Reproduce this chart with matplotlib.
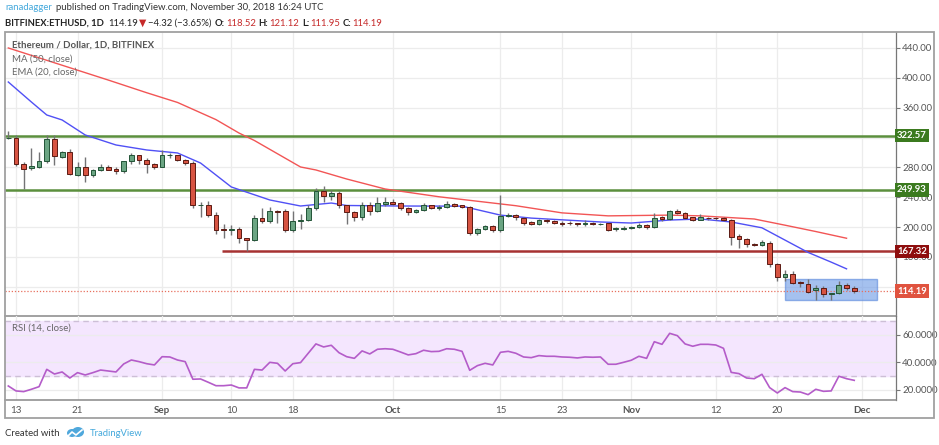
import matplotlib
matplotlib.use("Agg")
import matplotlib.pyplot as plt
import matplotlib.dates as mdates
import matplotlib.transforms as mtransforms
from matplotlib.patches import Rectangle, Ellipse
import pandas as pd

plt.rcParams['font.family'] = ['Lato', 'DejaVu Sans']

W, H = 939, 445

# ---------------- data ----------------
start_date = "2018-08-12"
opens = [319, 319, 285, 279, 280, 288, 318, 294, 300, 270, 281, 270, 277, 281, 278, 275, 289, 296, 290, 285,
         281, 296, 296, 290, 286, 229, 229.5, 216, 198, 196, 197, 185, 183, 212, 208, 222, 221, 196.5, 208.5, 209.5,
         225, 248, 241, 245, 229, 220, 214, 230, 222, 231.5, 233.5, 232, 225, 220, 222.5, 229, 225.5, 226.5, 231, 229,
         227, 191.5, 197.5, 201, 196, 215, 216, 212.5, 207, 204.5, 209.5, 207.5, 206, 205.5, 205, 203.5, 205.5, 204, 205, 197,
         197.5, 198.5, 200, 203, 200, 213.5, 211, 221, 218.5, 213, 210, 212.5, 212, 211.5, 209.5, 187.5, 184.5, 177.5, 176, 179,
         150.5, 133.5, 137.5, 127, 124, 115, 118, 110, 111, 122.5, 118.52]
highs = [329, 323, 287, 306, 300, 323, 323, 302, 305, 287, 294, 278, 285, 283, 280, 289, 299, 297, 293, 286,
         303, 299, 297, 291, 289, 233, 235, 220, 204, 203, 200, 186, 216, 225, 227, 223, 224, 221, 217, 229,
         252, 255, 250, 248, 230, 222, 234, 234, 240, 240, 237, 233.6, 226.5, 224, 232, 230, 229, 235, 232.8, 230,
         228, 199, 203, 203, 243, 219, 217, 214, 208, 211, 211, 209, 208, 208, 206, 209.5, 207, 206, 206, 200,
         201, 202, 205, 204, 219, 215, 223, 224, 220, 214, 217, 214, 213.5, 213, 211, 191, 185, 178.5, 183, 181,
         152, 142, 141, 128, 130, 122, 121, 112, 128, 124.5, 121.12]
lows = [318, 282, 251, 277, 279, 286, 283, 292, 270, 269, 260, 267, 275, 276, 271, 273, 284, 285, 273, 278,
        280, 292, 289, 283, 226, 213, 213, 191, 186, 189, 179, 168, 181, 205, 206, 205, 194, 194, 197, 208,
        223, 234, 236, 226, 204, 208, 210, 216, 220, 228, 229, 223, 216, 219, 221, 224, 222.8, 226, 227, 225,
        189, 190, 196, 194, 194, 213, 210, 203, 203, 203, 206, 204, 202, 203, 202, 202, 203, 203, 195, 195,
        196, 197, 199, 198, 199, 208, 210, 217, 211, 208, 209, 209, 210, 208, 176, 172, 173, 175, 175, 147,
        128, 128, 124, 120, 111, 102, 106, 102, 110, 115, 111.95]
closes = [320, 284, 278, 282, 288, 318, 295, 300, 271, 281, 270, 277, 281, 277, 275, 288, 296, 290, 284, 281,
          296, 296.5, 290, 285.5, 229, 229.5, 216, 196.5, 196.5, 197.5, 185, 183, 212, 208, 221.5, 220, 196.5, 208.5, 210, 225,
          248.7, 241, 245, 229, 220, 214, 230, 222, 232, 233.5, 231.5, 226, 220, 222.8, 229.5, 225.5, 226.7, 230.5, 228.5, 226.5,
          191.5, 198, 201.5, 196, 215, 216.5, 213, 206, 204.5, 209.5, 208, 206, 204.5, 204.8, 203.5, 205.5, 204, 204.5, 196.5, 198.5,
          199, 200.5, 203, 200, 212.5, 210.5, 221.5, 219, 212.5, 210, 213, 212, 211.8, 209.5, 187, 184.5, 177.5, 176, 179.5, 150.5,
          133.5, 137.5, 125.5, 124.5, 113.5, 118, 110, 111, 123, 118.5, 114.19]
rsi_values = [22.9, 19.3, 18.8, 20.5, 22.4, 35, 31.6, 33.1, 28.7, 32.6, 30.9, 32.6, 34.5, 33.8, 33.1, 38.9, 41.8, 40.6, 39.1, 38.2,
              44.2, 44, 41.8, 40.6, 27.8, 28, 25.6, 23.1, 23.1, 23.6, 21.5, 21.5, 35, 34.5, 40.1, 39.4, 33.8, 39.1, 39.9, 46.7,
              53.5, 51.3, 52.5, 47.1, 44.2, 43, 48.4, 46.2, 49.6, 50, 49.6, 47.6, 45.5, 46.4, 48.9, 47.9, 48.1, 50, 49.6, 48.1,
              34.3, 37.7, 39.4, 38.2, 47.4, 48.1, 46.7, 44, 43.5, 45, 44.5, 44.5, 44, 43.8, 43.3, 44, 43.8, 44, 38.7, 38.7,
              40.1, 41.6, 44.5, 43, 55.1, 53.2, 61.2, 59.5, 53.5, 51.8, 53.2, 53.2, 52.7, 50.3, 32.8, 31.9, 28.7, 28.2, 31.4, 21.7,
              17.8, 21.7, 18.8, 18.5, 16.6, 20.5, 19, 19.3, 30, 28.2, 27]

ma50_dates = ["2018-08-12", "2018-08-25", "2018-08-30", "2018-09-03", "2018-09-08", "2018-09-11", "2018-09-13",
              "2018-09-19", "2018-09-21", "2018-09-25", "2018-09-30", "2018-10-07", "2018-10-17", "2018-10-23",
              "2018-10-29", "2018-11-06", "2018-11-10", "2018-11-17", "2018-11-21", "2018-11-25", "2018-11-29"]
ma50_vals = [440, 397, 380, 367, 344, 326, 316, 280.5, 276.5, 264.4, 251, 240.6, 228.6, 219,
             215, 216, 215, 210.8, 202.5, 194, 185]
ema20_dates = ["2018-08-12", "2018-08-15", "2018-08-17", "2018-08-19", "2018-08-22", "2018-08-26", "2018-08-30",
               "2018-09-03", "2018-09-06", "2018-09-10", "2018-09-15", "2018-09-19", "2018-09-23", "2018-09-25",
               "2018-10-02", "2018-10-10", "2018-10-15", "2018-10-19", "2018-10-28", "2018-11-01", "2018-11-06",
               "2018-11-10", "2018-11-14", "2018-11-18", "2018-11-22", "2018-11-24", "2018-11-27", "2018-11-29"]
ema20_vals = [394.4, 367.6, 350.2, 343.5, 323.4, 310, 303.3, 299.3, 285.8, 253.7, 236.3, 228.2, 232.2, 228.9,
              228.2, 228, 216, 212, 206.8, 205.4, 209.4, 210.8, 206.8, 199, 177, 166, 153, 144]

resistance_levels = [322.57, 249.93]
support_level = 167.32
support_start = "2018-09-08 20:00"
last_price = 114.19
box_start, box_end = "2018-11-21", "2018-12-03"
box_low, box_high = 101.8, 130.0

x_tick_dates = ["2018-08-13", "2018-08-21", "2018-09-01", "2018-09-10", "2018-09-18", "2018-10-01",
                "2018-10-15", "2018-10-23", "2018-11-01", "2018-11-12", "2018-11-20", "2018-12-01"]
x_tick_labels = ["13", "21", "Sep", "10", "18", "Oct", "15", "23", "Nov", "12", "20", "Dec"]
price_ticks = [120, 160, 200, 240, 280, 320, 360, 400, 440]
price_tick_hidden = [120, 320]   # fully covered by the level labels in the reference
rsi_ticks = [20, 40, 60]

# ---------------- figure ----------------
fig = plt.figure(figsize=(W / 100, H / 100), dpi=100)
fig.patch.set_facecolor("white")


def fx(x):
    return x / W


def fy(y):
    return 1 - y / H


ax = fig.add_axes([fx(5), fy(316), fx(896) - fx(5), fy(32) - fy(316)])
axr = fig.add_axes([fx(5), fy(400), fx(896) - fx(5), fy(316) - fy(400)], sharex=ax)

dates = pd.date_range(start_date, periods=len(opens), freq="D")
dn = mdates.date2num(dates)
x0 = mdates.date2num(pd.Timestamp("2018-08-13"))
ax.set_xlim(x0 - 1.43, x0 + 114.43)
ax.set_ylim(80.8, 461.4)
axr.set_ylim(12.7, 73.8)

grid_c = "#ececec"
for a in (ax, axr):
    for t in x_tick_dates:
        a.axvline(mdates.date2num(pd.Timestamp(t)), color=grid_c, lw=0.9, zorder=0)
for p in price_ticks:
    ax.axhline(p, color=grid_c, lw=0.9, zorder=0)
for r in rsi_ticks:
    axr.axhline(r, color=grid_c, lw=0.9, zorder=0.6)

# blue range box
bx0 = mdates.date2num(pd.Timestamp(box_start))
bx1 = mdates.date2num(pd.Timestamp(box_end))
ax.add_patch(Rectangle((bx0, box_low), bx1 - bx0, box_high - box_low, fc="#6f9be6", alpha=0.62,
                       ec="#5a88dd", lw=1.0, zorder=1.5))

# levels
for lv in resistance_levels:
    ax.axhline(lv, color="#5b8f3d", lw=1.8, zorder=2.5)
ax.hlines(support_level, mdates.date2num(pd.Timestamp(support_start)), ax.get_xlim()[1],
          color="#a63232", lw=1.8, zorder=2.5)
ax.axhline(last_price, color="#e8705e", lw=0.9, ls=(0, (1, 1.5)), zorder=2.4)

# moving averages
ax.plot(mdates.date2num(pd.to_datetime(ma50_dates)), ma50_vals, color="#f25555", lw=1.0, zorder=2.6)
ax.plot(mdates.date2num(pd.to_datetime(ema20_dates)), ema20_vals, color="#5050f5", lw=1.0, zorder=2.6)

# candles
up_body, up_edge = "#6ba583", "#225437"
dn_body, dn_edge = "#d75442", "#5b1a13"
bodies, bottoms, fcs, ecs = [], [], [], []
for o, c in zip(opens, closes):
    up = c >= o
    bottoms.append(min(o, c))
    bodies.append(max(abs(c - o), 0.7))
    fcs.append(up_body if up else dn_body)
    ecs.append(up_edge if up else dn_edge)
ax.vlines(dn, lows, highs, colors="#737375", lw=1.0, zorder=3)
ax.bar(dn, bodies, bottom=bottoms, width=0.62, color=fcs, edgecolor=ecs, linewidth=0.7, zorder=4)

# RSI panel
axr.axhspan(30, 70, color="#f4e6fe", zorder=0.5)
for lv in (30, 70):
    axr.axhline(lv, color="#cdbfd6", lw=1.0, ls=(0, (4, 3)), zorder=0.7)
axr.plot(dn, rsi_values, color="#b45cc9", lw=1.2, zorder=3)

# axes styling
for a in (ax, axr):
    a.yaxis.tick_right()
    a.tick_params(axis="y", labelsize=7, colors="#777", labelcolor="#555", length=3, width=0.8, pad=1.5)
    for s in ("left", "top"):
        a.spines[s].set_visible(False)
    a.spines["right"].set_color("#777")
    a.spines["right"].set_linewidth(0.9)
    a.spines["bottom"].set_color("#888")
    a.spines["bottom"].set_linewidth(1.1)
    a.set_facecolor("none")

ax.set_yticks(price_ticks)
ax.set_yticklabels(["" if p in price_tick_hidden else f"{p:.2f}" for p in price_ticks])
axr.set_yticks(rsi_ticks)
axr.set_yticklabels([f"{r:.4f}" for r in rsi_ticks])

axr.set_xticks(mdates.date2num(pd.to_datetime(x_tick_dates)))
axr.set_xticklabels(x_tick_labels)
axr.tick_params(axis="x", length=0, labelsize=7, labelcolor="#555", pad=4)
for lbl in axr.get_xticklabels():
    if lbl.get_text() in ("Sep", "Oct", "Nov", "Dec"):
        lbl.set_fontweight("bold")
ax.tick_params(axis="x", length=0, labelbottom=False)

# price labels on the right scale
blend = mtransforms.blended_transform_factory(ax.transAxes, ax.transData)
label_specs = [(322.57, "#3b7a1f"), (249.93, "#3b7a1f"), (support_level, "#8e0e0e"), (last_price, "#e0533f")]
for val, col in label_specs:
    ax.text(1.0012, val, f"{val:.2f}", transform=blend, ha="left", va="center", color="white",
            fontsize=6.8, fontweight="bold", clip_on=False, zorder=10,
            bbox=dict(boxstyle="square,pad=0.25", fc=col, ec="none"))

# outer frame
fig.add_artist(Rectangle((fx(5), fy(418)), fx(934) - fx(5), fy(32) - fy(418), transform=fig.transFigure,
                         fill=False, ec="#a0a0a0", lw=1.3))

renderer = fig.canvas.get_renderer()


def run_line(pieces, x_start, x_end, y, base_size):
    """Lay text pieces one after the other, scaled so the line spans x_start..x_end pixels."""
    texts = []
    for t, c, w, gap in pieces:
        texts.append((fig.text(0, fy(y), t, color=c, fontsize=base_size, fontweight=w,
                               va="center", ha="left"), gap))
    widths = [tx.get_window_extent(renderer).width for tx, _ in texts]
    gaps = [g for _, g in texts]
    total = sum(widths) + sum(gaps[:-1])
    scale = (x_end - x_start - sum(gaps[:-1])) / (total - sum(gaps[:-1]))
    x = x_start
    for (tx, gap), wdt in zip(texts, widths):
        tx.set_fontsize(base_size * scale)
        tx.set_x(fx(x))
        x += wdt * scale + gap


# header
run_line([("ranadagger", "#45a9dc", "normal", 3),
          ("published on TradingView.com, November 30, 2018 16:24 UTC", "#333", "normal", 0)],
         5, 325, 8, 7.5)
red = "#c62a2a"
run_line([("BITFINEX:ETHUSD, 1D", "#222", "bold", 4), ("114.19", "#222", "normal", 1),
          ("▼", red, "normal", 2), ("\u22124.32 (\u22123.65%)", "#222", "normal", 3),
          ("O:", "#222", "bold", 1), ("118.52", red, "normal", 3),
          ("H:", "#222", "bold", 1), ("121.12", red, "normal", 3),
          ("L:", "#222", "bold", 1), ("111.95", red, "normal", 3),
          ("C:", "#222", "bold", 1), ("114.19", red, "normal", 0)],
         5, 382, 23, 7.5)

# legend texts
run_line([("Ethereum / Dollar, 1D, BITFINEX", "#555", "bold", 0)], 12, 154, 45, 7.5)
run_line([("MA (50, close)", "#666", "normal", 0)], 12, 72, 59, 7.5)
run_line([("EMA (20, close)", "#666", "normal", 0)], 12, 77, 72.5, 7.5)
run_line([("RSI (14, close)", "#666", "normal", 0)], 12, 70, 328, 7.5)

# footer
run_line([("Created with", "#333", "normal", 0)], 5, 60, 434, 7.5)
fig.add_artist(Ellipse((fx(72), fy(433)), fx(10) - fx(0), fy(0) - fy(8), transform=fig.transFigure,
                       fc="#4fa8dc", ec="none"))
fig.add_artist(Ellipse((fx(78), fy(432)), fx(12) - fx(0), fy(0) - fy(10), transform=fig.transFigure,
                       fc="#4fa8dc", ec="none"))
fig.add_artist(plt.Line2D([fx(68), fx(72), fx(76), fx(82)], [fy(436), fy(432), fy(435), fy(430)],
                          transform=fig.transFigure, color="white", lw=1.2))
run_line([("TradingView", "#45a9dc", "normal", 0)], 90, 143, 434, 7.5)

fig.savefig("out.png", dpi=100, facecolor="white")
